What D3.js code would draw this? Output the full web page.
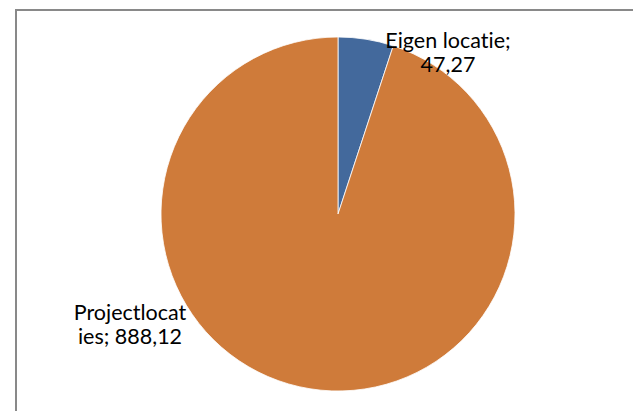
<!DOCTYPE html>
<html><head><meta charset="utf-8">
<script src="https://cdn.jsdelivr.net/npm/d3@7"></script>
<style>html,body{margin:0;padding:0;background:#fff;overflow:hidden} text{font-variant-ligatures:none;font-feature-settings:"liga" 0,"clig" 0}</style>
</head><body>
<svg id="chart" width="633" height="411"></svg>
<script>
const categories = ["Eigen locatie", "Projectlocaties"];
const values = [47.27, 888.12];
const labelLines = [["Eigen locatie;", "47,27"], ["Projectlocat", "ies; 888,12"]];
const colors = ["#43699C", "#CF7B3A"];

const svg = d3.select("#chart");
// frame
svg.append("rect").attr("x", 16).attr("y", 10).attr("width", 700).attr("height", 500)
  .attr("fill", "#fff").attr("stroke", "#898989").attr("stroke-width", 2);

const cx = 338, cy = 214, r = 177;
const pie = d3.pie().sort(null).value(d => d)(values);
const arc = d3.arc().innerRadius(0).outerRadius(r);
const g = svg.append("g").attr("transform", `translate(${cx},${cy})`);
g.selectAll("path").data(pie).join("path")
  .attr("d", arc).attr("fill", (d, i) => colors[i])
  .attr("stroke", "#fff").attr("stroke-width", 0.8);

// labels
const labelPos = [[448, 48], [130, 320]];
labelLines.forEach((lines, i) => {
  const t = svg.append("text").attr("text-anchor", "middle")
    .attr("font-family", "Lato, 'Open Sans', sans-serif").attr("font-size", 21.5).attr("fill", "#000");
  lines.forEach((ln, j) => {
    t.append("tspan").attr("x", labelPos[i][0]).attr("y", labelPos[i][1] + j * 24)
      .text(ln);
  });
});
</script>
</body></html>
